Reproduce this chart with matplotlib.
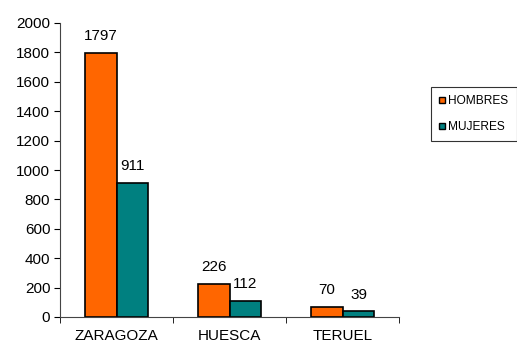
import numpy as np
import matplotlib
matplotlib.use("Agg")
import matplotlib.pyplot as plt
from matplotlib.patches import Patch

plt.rcParams["font.family"] = ["Liberation Sans", "DejaVu Sans"]

provincias = ["ZARAGOZA", "HUESCA", "TERUEL"]
hombres = [1797, 226, 70]
mujeres = [911, 112, 39]
series = ["HOMBRES", "MUJERES"]
colores = ["#FF6600", "#008080"]

fig = plt.figure(figsize=(5.17, 3.43), dpi=100)
ax = fig.add_axes([60 / 517, 26 / 343, 339 / 517, 294 / 343])

x = np.arange(len(provincias))
w = 0.283
b1 = ax.bar(x - w / 2, hombres, w, color=colores[0], edgecolor="black", linewidth=1.2)
b2 = ax.bar(x + w / 2, mujeres, w, color=colores[1], edgecolor="black", linewidth=1.2)

for bars, vals in ((b1, hombres), (b2, mujeres)):
    for rect, v in zip(bars, vals):
        ax.annotate(str(v), (rect.get_x() + rect.get_width() / 2, v),
                    xytext=(0, 7), textcoords="offset points",
                    ha="center", va="bottom", fontsize=11)

ax.set_xlim(-0.5, 2.5)
ax.set_ylim(0, 2000)
ax.set_yticks(range(0, 2001, 200))
ax.tick_params(axis="y", labelsize=11, length=4, direction="out", pad=3)

# category labels centered, tick marks on the boundaries
ax.set_xticks(x)
ax.set_xticklabels(provincias, fontsize=11)
ax.tick_params(axis="x", which="major", length=0, pad=9)
ax.set_xticks(np.arange(-0.5, 3, 1), minor=True)
ax.tick_params(axis="x", which="minor", length=4, direction="out")

for s in ("top", "right"):
    ax.spines[s].set_visible(False)
ax.spines["left"].set_color("#444444")
ax.spines["bottom"].set_color("#444444")

handles = [Patch(facecolor=c, edgecolor="black", label=l) for c, l in zip(colores, series)]
leg = fig.legend(handles=handles, loc="upper left", bbox_to_anchor=(431 / 517, 1 - 87 / 343),
                 fontsize=8.6, frameon=True, fancybox=False, handlelength=0.45,
                 handleheight=0.45, handletextpad=0.3, labelspacing=1.15,
                 borderpad=0.7, borderaxespad=0)
leg.get_frame().set_edgecolor("black")
leg.get_frame().set_linewidth(0.8)

fig.savefig("out.png", dpi=100)
